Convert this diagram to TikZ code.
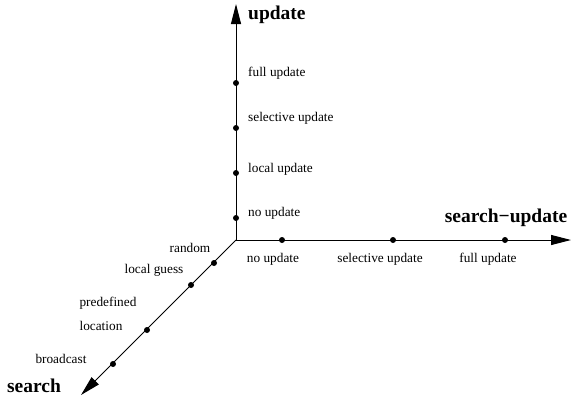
\documentclass[tikz,border=0pt]{standalone}
\usepackage{fontspec}
\setmainfont{Liberation Serif}
\usetikzlibrary{arrows.meta}
\tikzset{
  axis/.style={line width=1pt,-{Triangle[length=20pt,width=10pt]}},
  dot/.style={circle,fill=black,inner sep=0pt,minimum size=6pt},
  lab/.style={font=\fontsize{13.3}{15}\selectfont,inner sep=0pt},
  ttl/.style={font=\fontsize{19.5}{22}\selectfont\bfseries,inner sep=0pt}
}
\begin{document}
\begin{tikzpicture}[x=1pt,y=-1pt]
\useasboundingbox (0,0) rectangle (572,399);
\coordinate (O) at (236,240);
\coordinate (U) at (236,4);
\coordinate (R) at (571,240);
\coordinate (S) at (81,395);
\draw[axis] (O) -- (U);
\draw[axis] (O) -- (R);
\draw[axis] (O) -- (S);
% update axis
\node[dot] (u1) at (236,218) {};
\node[dot] (u2) at (236,173) {};
\node[dot] (u3) at (236,128) {};
\node[dot] (u4) at (236,83) {};
\node[lab,anchor=west] (lu1) at (248,213) {no update};
\node[lab,anchor=west] (lu2) at (248,169) {local update};
\node[lab,anchor=west] (lu3) at (248,118) {selective update};
\node[lab,anchor=west] (lu4) at (248,73) {full update};
\node[ttl,anchor=west] (tu) at (248,15) {update};
% search-update axis
\node[dot] (h1) at (282,240) {};
\node[dot] (h2) at (393,240) {};
\node[dot] (h3) at (505,240) {};
\node[lab] (lh1) at (273,259) {no update};
\node[lab] (lh2) at (380,259) {selective update};
\node[lab] (lh3) at (488,259) {full update};
\node[ttl] (th) at (506,218) {search\textminus update};
% search axis
\node[dot] (s1) at (214,263) {};
\node[dot] (s2) at (191,285) {};
\node[dot] (s3) at (147,330) {};
\node[dot] (s4) at (113,364) {};
\node[lab] (ls1) at (190,248) {random};
\node[lab] (ls2) at (154,270) {local guess};
\node[lab] (ls3) at (108,303) {predefined};
\node[lab] (ls3b) at (101,326) {location};
\node[lab] (ls4) at (61,359) {broadcast};
\node[ttl] (ts) at (34,386) {search};
\end{tikzpicture}
\end{document}
